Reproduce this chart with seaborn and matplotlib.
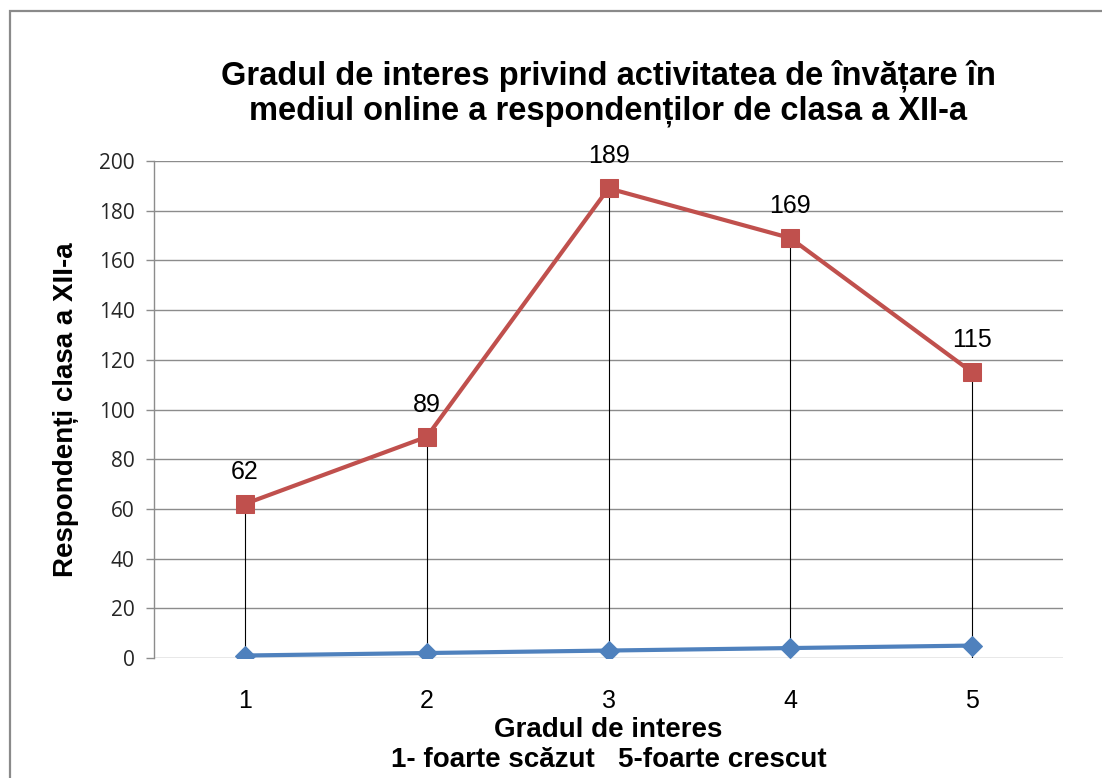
import matplotlib
matplotlib.use("Agg")
import matplotlib.pyplot as plt
import matplotlib.patches as patches
import pandas as pd
import seaborn as sns

# Chart data
grade = [1, 2, 3, 4, 5]
blue_values = [1, 2, 3, 4, 5]
red_values = [62, 89, 189, 169, 115]
y_ticks = [0, 20, 40, 60, 80, 100, 120, 140, 160, 180, 200]

df = pd.DataFrame({"grad": grade, "blue": blue_values, "red": red_values})

sns.set_style("white")
plt.rcParams["font.family"] = ["Liberation Sans", "DejaVu Sans"]
plt.rcParams["text.color"] = "black"

fig = plt.figure(figsize=(11.02, 7.78), dpi=100)
ax = fig.add_axes([154 / 1102, 1 - 658 / 778, (1063 - 154) / 1102, (658 - 161) / 778])

# Drop lines from the red series down to the axis
ax.vlines(df["grad"], 0, df["red"], color="black", linewidth=0.8, zorder=2)

sns.lineplot(data=df, x="grad", y="blue", ax=ax, color="#4F81BD", linewidth=3,
             marker="D", markersize=10.5, markeredgecolor="#4F81BD", zorder=3)
sns.lineplot(data=df, x="grad", y="red", ax=ax, color="#C0504D", linewidth=3,
             marker="s", markersize=12.5, markeredgecolor="#C0504D", zorder=4)

# Data labels for the red series
for x, v in zip(df["grad"], df["red"]):
    ax.annotate(str(v), (x, v), xytext=(0, 23), textcoords="offset points",
                ha="center", va="center", fontsize=18, color="black")

ax.set_xlim(0.5, 5.5)
ax.set_ylim(0, 200)
ax.set_xticks(grade)
ax.set_yticks(y_ticks)
ax.yaxis.grid(True, color="#8c8c8c", linewidth=1)
ax.set_axisbelow(True)
ax.tick_params(axis="y", which="major", left=True, length=6, width=1, color="#8c8c8c",
               labelsize=15, labelcolor="#262626", pad=8)
ax.tick_params(axis="x", bottom=False, labelsize=18, labelcolor="black", pad=19)
for lbl in ax.get_yticklabels():
    lbl.set_family(["Open Sans", "DejaVu Sans"])

for side in ["top", "right", "bottom"]:
    ax.spines[side].set_visible(False)
ax.spines["left"].set_color("#8c8c8c")
ax.spines["left"].set_linewidth(1)

ax.set_xlabel("Gradul de interes\n1- foarte scăzut   5-foarte crescut",
              fontsize=20, fontweight="bold", labelpad=3, linespacing=1.2, color="black")
ax.set_ylabel("Respondenți clasa a XII-a", fontsize=20, fontweight="bold", labelpad=14,
              color="black")

fig.text(608 / 1102, 1 - 93 / 778,
         "Gradul de interes privind activitatea de învățare în\nmediul online a respondenților de clasa a XII-a",
         ha="center", va="center", fontsize=23.5, fontweight="bold", linespacing=1.15)

# Outer chart frame (partly cut off at the right and bottom)
frame = patches.Rectangle((10 / 1102, -0.05), 1.2, 1 - 11 / 778 + 0.05, transform=fig.transFigure,
                          fill=False, edgecolor="#8a8a8a", linewidth=1.6)
fig.patches.append(frame)

fig.savefig("out.png", dpi=100)
plt.close(fig)
